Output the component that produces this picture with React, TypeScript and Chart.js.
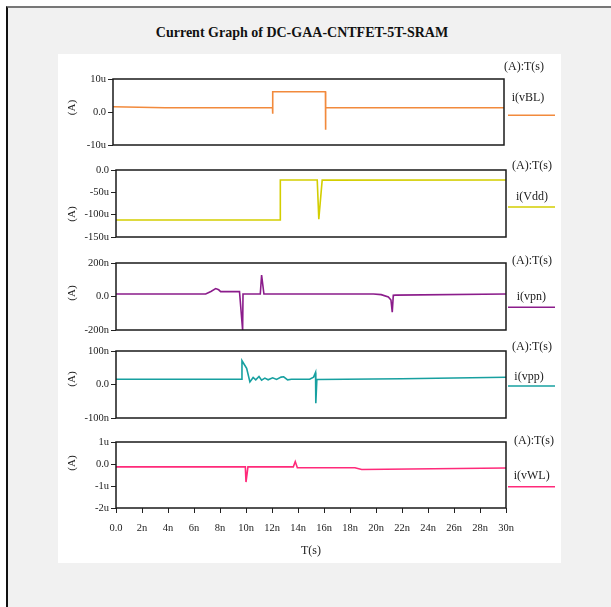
import React, { useEffect, useRef } from "react";
import { Chart, registerables } from "chart.js";

Chart.register(...registerables);

// ---------- DATA ----------
const chartTitle = "Current Graph of DC-GAA-CNTFET-5T-SRAM";
const axisUnitLabel = "(A)";
const cornerLabel = "(A):T(s)";
const timeAxisTitle = "T(s)";

const timeTickValues = [0, 2, 4, 6, 8, 10, 12, 14, 16, 18, 20, 22, 24, 26, 28, 30];
const timeTickLabels = ["0.0", "2n", "4n", "6n", "8n", "10n", "12n", "14n", "16n", "18n", "20n", "22n", "24n", "26n", "28n", "30n"];

// i(vBL) in uA, time in ns
const vblTime = [0, 4, 12.24, 12.25, 12.26, 16.3, 16.31, 16.32, 30];
const vblCurrent = [1.6, 1.3, 1.3, -0.5, 6.15, 6.15, -5.4, 1.3, 1.3];
const vblTickValues = [-10, 0, 10];
const vblTickLabels = ["-10u", "0.0", "10u"];

// i(Vdd) in uA
const vddTime = [0, 12.62, 12.64, 15.48, 15.6, 15.86, 30];
const vddCurrent = [-112, -112, -22.4, -22.4, -110, -22.6, -22.4];
const vddTickValues = [-150, -100, -50, 0];
const vddTickLabels = ["-150u", "-100u", "-50u", "0.0"];

// i(vpn) in nA
const vpnTime = [0, 6.9, 7.3, 7.67, 7.9, 8.05, 9.5, 9.74, 9.77, 11.1, 11.2, 11.38, 19.8, 20.4, 20.95, 21.15, 21.25, 21.33, 21.5, 30];
const vpnCurrent = [15, 15, 30, 47, 40, 29, 29, -200, 15, 15, 128, 15, 15, 11, -3, -21, -94, 7, 8, 15];
const vpnTickValues = [-200, 0, 200];
const vpnTickLabels = ["-200n", "0.0", "200n"];

// i(vpp) in nA
const vppTime = [0, 9.67, 9.69, 10.05, 10.3, 10.55, 10.75, 11.0, 11.2, 11.45, 11.7, 12.05, 12.35, 12.7, 12.9, 13.2, 13.5, 14.9, 15.2, 15.35, 15.37, 15.45, 22, 30];
const vppCurrent = [15.5, 15.5, 71, 48, 7.5, 21, 14, 24, 13, 19, 14, 20, 15, 22, 23, 14, 15.5, 15.5, 22, 36, -56, 15, 17, 21.5];
const vppTickValues = [-100, 0, 100];
const vppTickLabels = ["-100n", "0.0", "100n"];

// i(vWL) in uA
const vwlTime = [0, 9.95, 10.0, 10.15, 13.64, 13.79, 13.95, 18.38, 18.9, 30];
const vwlCurrent = [-0.13, -0.13, -0.82, -0.13, -0.13, 0.11, -0.17, -0.17, -0.25, -0.18];
const vwlTickValues = [-2, -1, 0, 1];
const vwlTickLabels = ["-2u", "-1u", "0.0", "1u"];

// ---------- STYLE / LAYOUT ----------
const SERIF = "'Liberation Serif', 'Times New Roman', serif";
const PANEL_LEFT = 58;
const PANEL_RIGHT = 561;

type Panel = {
  name: string;
  color: string;
  time: number[];
  values: number[];
  tickValues: number[];
  tickLabels: string[];
  frameTop: number;
  frameHeight: number;
  frameLeft: number;
  frameRight: number;
  unitOffset: number;
  cornerY: number;
  cornerX: number;
  nameY: number;
  nameX: number;
  lineY: number;
  showTime: boolean;
};

const panels: Panel[] = [
  { name: "i(vBL)", color: "#f28a3c", time: vblTime, values: vblCurrent, tickValues: vblTickValues, tickLabels: vblTickLabels,
    frameTop: 79, frameHeight: 66, frameLeft: 113, frameRight: 504, unitOffset: 28.5,
    cornerY: 67.3, cornerX: 504, nameY: 98.3, nameX: 511.7, lineY: 115.3, showTime: false },
  { name: "i(Vdd)", color: "#d3ce00", time: vddTime, values: vddCurrent, tickValues: vddTickValues, tickLabels: vddTickLabels,
    frameTop: 170, frameHeight: 67, frameLeft: 116, frameRight: 506, unitOffset: 44,
    cornerY: 165.7, cornerX: 512, nameY: 196.7, nameX: 516, lineY: 207, showTime: false },
  { name: "i(vpn)", color: "#8b1c8b", time: vpnTime, values: vpnCurrent, tickValues: vpnTickValues, tickLabels: vpnTickLabels,
    frameTop: 263, frameHeight: 67, frameLeft: 116, frameRight: 506, unitOffset: 30,
    cornerY: 261, cornerX: 512, nameY: 297.3, nameX: 516.7, lineY: 307.3, showTime: false },
  { name: "i(vpp)", color: "#17a0a0", time: vppTime, values: vppCurrent, tickValues: vppTickValues, tickLabels: vppTickLabels,
    frameTop: 351, frameHeight: 67, frameLeft: 116, frameRight: 506, unitOffset: 28,
    cornerY: 347.3, cornerX: 512, nameY: 376.7, nameX: 514.3, lineY: 386, showTime: false },
  { name: "i(vWL)", color: "#ff2a7a", time: vwlTime, values: vwlCurrent, tickValues: vwlTickValues, tickLabels: vwlTickLabels,
    frameTop: 442, frameHeight: 66, frameLeft: 116, frameRight: 506, unitOffset: 21,
    cornerY: 440.7, cornerX: 514, nameY: 475.7, nameX: 513.7, lineY: 486.7, showTime: true },
];

const PAD_TOP = 20;
const PAD_BOTTOM = 12;
const TIME_AXIS_H = 53;

function canvasGeom(p: Panel) {
  const top = p.frameTop - PAD_TOP;
  const height = PAD_TOP + p.frameHeight + (p.showTime ? TIME_AXIS_H + 2 : PAD_BOTTOM);
  return { top, height, left: PANEL_LEFT, width: PANEL_RIGHT - PANEL_LEFT };
}

const decoPlugin = {
  id: "deco",
  afterDraw(chart: any, _args: any, opts: any) {
    const { ctx, chartArea: a } = chart;
    const g = opts.geom;
    const p: Panel = opts.panel;
    ctx.save();
    ctx.strokeStyle = "#1a1a1a";
    ctx.lineWidth = 1.5;
    ctx.strokeRect(a.left, a.top, a.right - a.left, a.bottom - a.top);
    ctx.fillStyle = "#222";
    // unit title
    ctx.save();
    ctx.font = `11px ${SERIF}`;
    ctx.translate(72 - g.left, a.top + p.unitOffset);
    ctx.rotate(-Math.PI / 2);
    ctx.textAlign = "center";
    ctx.textBaseline = "middle";
    ctx.fillText(axisUnitLabel, 0, 0);
    ctx.restore();
    // corner and legend
    ctx.font = `12px ${SERIF}`;
    ctx.textAlign = "left";
    ctx.textBaseline = "middle";
    ctx.fillText(cornerLabel, p.cornerX - g.left, p.cornerY - g.top);
    ctx.fillText(p.name, p.nameX - g.left, p.nameY - g.top);
    ctx.strokeStyle = p.color;
    ctx.lineWidth = 1.5;
    ctx.beginPath();
    ctx.moveTo(508 - g.left, p.lineY - g.top);
    ctx.lineTo(555 - g.left, p.lineY - g.top);
    ctx.stroke();
    ctx.restore();
  },
};

function PanelChart({ p }: { p: Panel }) {
  const ref = useRef<HTMLCanvasElement>(null);
  const g = canvasGeom(p);
  useEffect(() => {
    if (!ref.current) return;
    const yWidth = p.frameLeft - g.left;
    const xScale: any = {
      type: "linear",
      min: 0,
      max: 30,
      display: p.showTime,
      afterBuildTicks: (s: any) => {
        s.ticks = timeTickValues.map((v) => ({ value: v }));
      },
      ticks: {
        callback: (_v: any, i: number) => timeTickLabels[i],
        font: { family: SERIF, size: 10.5 },
        color: "#222",
        padding: 9,
        maxRotation: 0,
        autoSkip: false,
      },
      grid: { drawOnChartArea: false, drawTicks: true, tickLength: 5, color: "#222" },
      border: { display: false },
      title: {
        display: true,
        text: timeAxisTitle,
        font: { family: SERIF, size: 12 },
        color: "#222",
        padding: { top: 0, bottom: 3 },
      },
    };
    if (p.showTime) {
      xScale.afterFit = (s: any) => {
        s.height = TIME_AXIS_H;
      };
    }
    const chart = new Chart(ref.current, {
      type: "line",
      data: {
        datasets: [
          {
            data: p.time.map((t, i) => ({ x: t, y: p.values[i] })),
            borderColor: p.color,
            borderWidth: 1.6,
            pointRadius: 0,
            tension: 0,
            fill: false,
          },
        ],
      },
      plugins: [decoPlugin],
      options: {
        responsive: false,
        animation: false,
        events: [],
        layout: {
          padding: {
            left: 0,
            right: PANEL_RIGHT - p.frameRight,
            top: PAD_TOP,
            bottom: p.showTime ? 2 : PAD_BOTTOM,
          },
        },
        plugins: {
          legend: { display: false },
          tooltip: { enabled: false },
          deco: { panel: p, geom: g },
        } as any,
        scales: {
          x: xScale,
          y: {
            type: "linear",
            min: p.tickValues[0],
            max: p.tickValues[p.tickValues.length - 1],
            afterBuildTicks: (s: any) => {
              s.ticks = p.tickValues.map((v) => ({ value: v }));
            },
            afterFit: (s: any) => {
              s.width = yWidth;
            },
            ticks: {
              callback: (_v: any, i: number) => p.tickLabels[i],
              font: { family: SERIF, size: 10.5 },
              color: "#222",
              padding: 2,
              autoSkip: false,
            },
            grid: { drawOnChartArea: false, drawTicks: true, tickLength: 5, color: "#222" },
            border: { display: false },
          },
        },
      } as any,
    });
    return () => chart.destroy();
  }, []);
  return (
    <canvas
      ref={ref}
      width={g.width}
      height={g.height}
      style={{ position: "absolute", left: g.left, top: g.top, width: g.width, height: g.height }}
    />
  );
}

export default function App() {
  return (
    <div style={{ position: "absolute", left: 0, top: 0, width: 611, height: 607, background: "#ffffff", overflow: "hidden" }}>
      <div
        style={{
          position: "absolute",
          left: 6,
          top: 6,
          width: 605,
          height: 601,
          background: "#f1f1f1",
          borderTop: "2px solid #777",
          borderLeft: "2px solid #111",
          boxSizing: "border-box",
        }}
      />
      <div style={{ position: "absolute", left: PANEL_LEFT, top: 54, width: PANEL_RIGHT - PANEL_LEFT, height: 509, background: "#ffffff" }} />
      <div
        style={{
          position: "absolute",
          left: 0,
          top: 25,
          width: 604,
          textAlign: "center",
          font: `bold 14px ${SERIF}`,
          lineHeight: "16px",
          color: "#111",
        }}
      >
        {chartTitle}
      </div>
      {panels.map((p) => (
        <PanelChart key={p.name} p={p} />
      ))}
    </div>
  );
}
